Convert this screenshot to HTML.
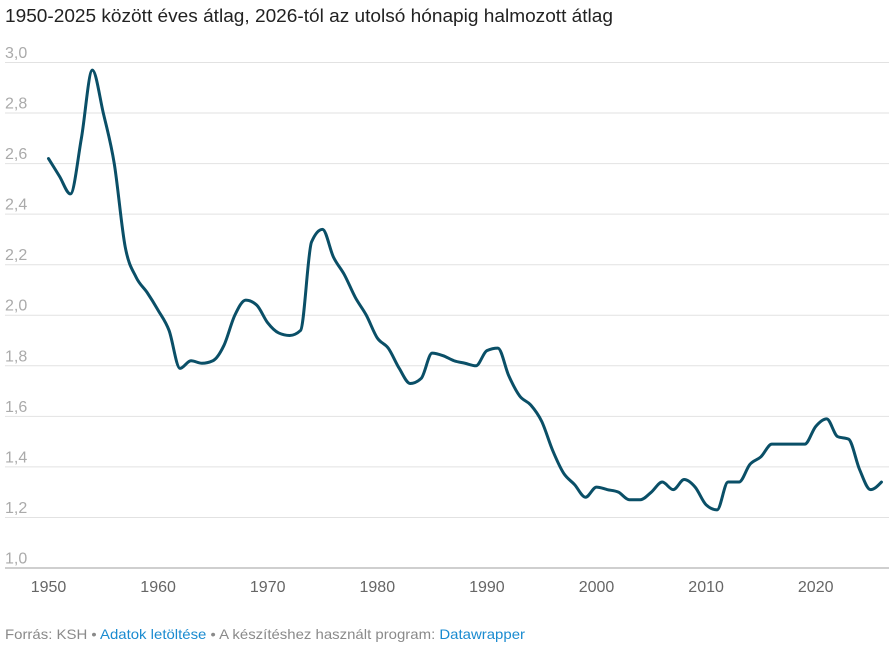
<!DOCTYPE html>
<html>
<head>
<meta charset="utf-8">
<style>
  html, body { margin: 0; padding: 0; background: #fff; }
  body { width: 889px; height: 645px; overflow: hidden; }
  svg { display: block; font-family: "Liberation Sans", Arial, sans-serif; }
</style>
</head>
<body>
<svg id="chart" width="889" height="645" viewBox="0 0 889 645" xmlns="http://www.w3.org/2000/svg">
  <rect width="889" height="645" fill="#fff"/>
  <text x="5" y="22" font-size="18" fill="#222" textLength="608" lengthAdjust="spacingAndGlyphs">1950-2025 között éves átlag, 2026-tól az utolsó hónapig halmozott átlag</text>

  <g id="grid" stroke="#e2e2e2" stroke-width="1">
    <line x1="5" x2="889" y1="62.5" y2="62.5"/>
    <line x1="5" x2="889" y1="113.05" y2="113.05"/>
    <line x1="5" x2="889" y1="163.6" y2="163.6"/>
    <line x1="5" x2="889" y1="214.15" y2="214.15"/>
    <line x1="5" x2="889" y1="264.7" y2="264.7"/>
    <line x1="5" x2="889" y1="315.25" y2="315.25"/>
    <line x1="5" x2="889" y1="365.8" y2="365.8"/>
    <line x1="5" x2="889" y1="416.35" y2="416.35"/>
    <line x1="5" x2="889" y1="466.9" y2="466.9"/>
    <line x1="5" x2="889" y1="517.45" y2="517.45"/>
  </g>
  <line x1="5" x2="889" y1="568" y2="568" stroke="#cfcfcf" stroke-width="2"/>

  <g font-size="16" fill="#aaaaaa">
    <text x="5" y="58">3,0</text>
    <text x="5" y="108.5">2,8</text>
    <text x="5" y="159">2,6</text>
    <text x="5" y="209.6">2,4</text>
    <text x="5" y="260.2">2,2</text>
    <text x="5" y="310.7">2,0</text>
    <text x="5" y="361.3">1,8</text>
    <text x="5" y="411.8">1,6</text>
    <text x="5" y="462.4">1,4</text>
    <text x="5" y="512.9">1,2</text>
    <text x="5" y="563.5">1,0</text>
  </g>

  <g font-size="16" fill="#666" text-anchor="middle">
    <text x="48.5" y="592">1950</text>
    <text x="158.1" y="592">1960</text>
    <text x="267.7" y="592">1970</text>
    <text x="377.3" y="592">1980</text>
    <text x="486.9" y="592">1990</text>
    <text x="596.5" y="592">2000</text>
    <text x="706.1" y="592">2010</text>
    <text x="815.7" y="592">2020</text>
  </g>

  <polyline id="fallback" fill="none" stroke="#0a4f67" stroke-width="3" stroke-linejoin="round" stroke-linecap="round"
    vector-effect="non-scaling-stroke"
    transform="translate(48.5,568) scale(10.96,-252.75) translate(-1950,-1)"
    points="1950,2.62 1951,2.55 1952,2.48 1953,2.70 1954,2.97 1955,2.80 1956,2.60 1957,2.27 1958,2.15 1959,2.09 1960,2.02 1961,1.94 1962,1.79 1963,1.82 1964,1.81 1965,1.82 1966,1.88 1967,2.00 1968,2.06 1969,2.04 1970,1.97 1971,1.93 1972,1.92 1973,1.94 1974,2.29 1975,2.34 1976,2.23 1977,2.16 1978,2.07 1979,2.00 1980,1.91 1981,1.87 1982,1.79 1983,1.73 1984,1.75 1985,1.85 1986,1.84 1987,1.82 1988,1.81 1989,1.80 1990,1.86 1991,1.87 1992,1.76 1993,1.68 1994,1.645 1995,1.58 1996,1.465 1997,1.375 1998,1.33 1999,1.28 2000,1.32 2001,1.31 2002,1.30 2003,1.27 2004,1.27 2005,1.30 2006,1.34 2007,1.31 2008,1.35 2009,1.32 2010,1.25 2011,1.23 2012,1.34 2013,1.34 2014,1.41 2015,1.44 2016,1.49 2017,1.49 2018,1.49 2019,1.49 2020,1.56 2021,1.59 2022,1.52 2023,1.51 2024,1.39 2025,1.31 2026,1.34"/>
  <path id="line" fill="none" stroke="#0a4f67" stroke-width="3" stroke-linejoin="round" stroke-linecap="round" d=""/>

  <text x="5" y="639" font-size="14" fill="#8a8a8a" textLength="520" lengthAdjust="spacingAndGlyphs">Forrás: KSH • <tspan fill="#1a8bd0">Adatok letöltése</tspan> • A készítéshez használt program: <tspan fill="#1a8bd0">Datawrapper</tspan></text>
</svg>
<script>
(function(){
  var pl = document.getElementById('fallback');
  var raw = pl.getAttribute('points').trim().split(/\s+/);
  var pts = raw.map(function(s){
    var a = s.split(',');
    var yr = parseFloat(a[0]), v = parseFloat(a[1]);
    return [48.5 + (yr-1950)*10.96, 568 - (v-1)*252.75];
  });
  function sign(x){ return x < 0 ? -1 : 1; }
  var n = pts.length, t = new Array(n);
  for (var i = 1; i < n-1; i++) {
    var x0=pts[i-1][0], y0=pts[i-1][1], x1=pts[i][0], y1=pts[i][1], x2=pts[i+1][0], y2=pts[i+1][1];
    var h0=x1-x0, h1=x2-x1, s0=(y1-y0)/h0, s1=(y2-y1)/h1, p=(s0*h1+s1*h0)/(h0+h1);
    t[i] = (sign(s0)+sign(s1)) * Math.min(Math.abs(s0), Math.abs(s1), 0.5*Math.abs(p)) || 0;
  }
  var h = pts[1][0]-pts[0][0];
  t[0] = (3*(pts[1][1]-pts[0][1])/h - t[1])/2;
  h = pts[n-1][0]-pts[n-2][0];
  t[n-1] = (3*(pts[n-1][1]-pts[n-2][1])/h - t[n-2])/2;
  var d = 'M' + pts[0][0].toFixed(2) + ',' + pts[0][1].toFixed(2);
  for (var j = 0; j < n-1; j++) {
    var a = pts[j], b = pts[j+1], dx = (b[0]-a[0])/3;
    d += 'C' + (a[0]+dx).toFixed(2) + ',' + (a[1]+dx*t[j]).toFixed(2) + ' ' +
         (b[0]-dx).toFixed(2) + ',' + (b[1]-dx*t[j+1]).toFixed(2) + ' ' +
         b[0].toFixed(2) + ',' + b[1].toFixed(2);
  }
  document.getElementById('line').setAttribute('d', d);
  pl.parentNode.removeChild(pl);
})();
</script>
</body>
</html>
